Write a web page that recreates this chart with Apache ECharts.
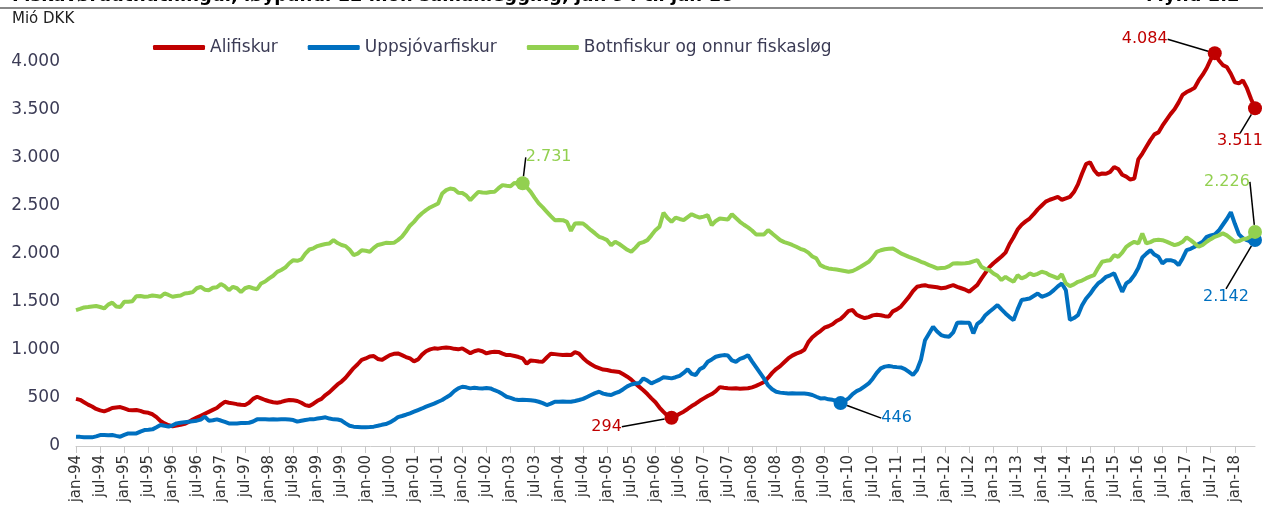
<!DOCTYPE html>
<html>
<head>
<meta charset="utf-8">
<title>Fiskavøruútflutningur</title>
<script src="https://cdn.jsdelivr.net/npm/echarts@6/dist/echarts.min.js"></script>
<style>
html, body { margin: 0; padding: 0; background: #fff; }
#chartmain { width: 1263px; height: 515px; }
</style>
</head>
<body>
<div id="chartmain"></div>
<script>
// mánaðir og ár til x-ásin
var monthNames = ['jan','feb','mar','apr','mai','jun','jul','aug','sep','okt','nov','des'];
var years = ['94','95','96','97','98','99','00','01','02','03','04','05','06','07','08','09','10','11','12','13','14','15','16','17','18'];
var lastMonth = 5; // jun-18

// Mió DKK, løypandi 12 mðr. samanlegging
var alifiskur = [
    490, 480, 455, 430, 410, 385, 370, 360, 375, 395, 400, 405,
    390, 375, 372, 374, 365, 350, 345, 330, 300, 260, 235, 215,
    205, 212, 220, 230, 250, 275, 295, 315, 335, 355, 375, 395,
    430, 460, 450, 443, 435, 428, 425, 450, 490, 512, 495, 478,
    465, 455, 450, 458, 470, 478, 475, 468, 450, 425, 416, 440,
    470, 490, 530, 560, 600, 640, 670, 710, 760, 810, 850, 895,
    910, 930, 935, 905, 895, 920, 945, 958, 962, 945, 925, 910,
    880, 900, 950, 985, 1005, 1015, 1012, 1020, 1025, 1020, 1010, 1005,
    1015, 990, 965, 985, 997, 985, 963, 975, 980, 978, 960, 945,
    945, 935, 925, 911, 855, 890, 885, 878, 877, 920, 960, 955,
    950, 945, 948, 945, 975, 960, 915, 877, 850, 825, 810, 795,
    790, 780, 775, 770, 745, 720, 690, 650, 615, 580, 540, 495,
    455, 400, 355, 315, 294, 310, 335, 357, 385, 415, 440, 470,
    495, 520, 540, 570, 612, 605, 600, 598, 600, 595, 598, 600,
    610, 625, 645, 665, 710, 760, 800, 830, 870, 910, 940, 960,
    975, 1000, 1080, 1130, 1165, 1195, 1230, 1245, 1265, 1300, 1320, 1360,
    1405, 1413, 1365, 1345, 1330, 1340, 1358, 1365, 1360, 1350, 1345, 1400,
    1420, 1450, 1500, 1550, 1610, 1655, 1665, 1672, 1660, 1655, 1650, 1640,
    1645, 1660, 1672, 1655, 1640, 1625, 1605, 1640, 1675, 1740, 1800, 1860,
    1900, 1935, 1970, 2010, 2100, 2170, 2250, 2300, 2335, 2365, 2410, 2460,
    2500, 2540, 2560, 2575, 2590, 2560, 2575, 2590, 2640, 2720, 2830, 2930,
    2950, 2870, 2820, 2833, 2830, 2850, 2900, 2880, 2820, 2800, 2770, 2780,
    2980, 3040, 3110, 3180, 3240, 3260, 3330, 3390, 3450, 3500, 3570, 3650,
    3680, 3700, 3725, 3800, 3860, 3930, 4020, 4084, 4010, 3960, 3940, 3870,
    3780, 3770, 3800, 3720, 3610, 3511
];
var uppsjovarfiskur = [
    97, 95, 90, 90, 90, 100, 114, 114, 112, 114, 105, 97,
    115, 131, 131, 131, 150, 166, 168, 173, 195, 218, 210, 201,
    215, 235, 242, 248, 253, 258, 263, 275, 305, 263, 268, 277,
    265, 250, 235, 235, 235, 238, 240, 242, 255, 277, 277, 277,
    275, 277, 275, 277, 277, 275, 270, 253, 262, 270, 277, 277,
    285, 292, 298, 285, 277, 275, 265, 235, 210, 201, 198, 194,
    196, 198, 201, 210, 220, 228, 245, 270, 300, 312, 325, 340,
    357, 374, 390, 409, 425, 440, 460, 478, 505, 530, 570, 600,
    616, 610, 599, 605, 600, 599, 602, 599, 580, 564, 540, 512,
    500, 485, 478, 480, 478, 475, 470, 460, 445, 426, 440, 460,
    460, 462, 460, 460, 468, 478, 490, 510, 530, 550, 564, 545,
    535, 530, 550, 564, 590, 620, 640, 650, 655, 703, 680, 651,
    670, 690, 714, 710, 703, 715, 730, 760, 797, 750, 738, 797,
    820, 876, 900, 928, 938, 945, 940, 890, 876, 905, 920, 945,
    880, 820, 760, 700, 630, 590, 564, 555, 550, 547, 548, 547,
    547, 545, 540, 530, 512, 495, 497, 485, 480, 470, 446, 470,
    495, 540, 570, 590, 620, 650, 700, 760, 807, 825, 831, 825,
    820, 817, 800, 770, 738, 790, 900, 1100, 1170, 1240, 1190, 1153,
    1140, 1136, 1180, 1281, 1285, 1282, 1281, 1171, 1270, 1300, 1360, 1396,
    1430, 1465, 1420, 1378, 1340, 1309, 1420, 1517, 1525, 1534, 1560, 1586,
    1551, 1565, 1586, 1620, 1660, 1690, 1620, 1309, 1330, 1360, 1460, 1530,
    1580, 1640, 1690, 1720, 1759, 1775, 1794, 1700, 1603, 1690, 1720, 1776,
    1850, 1960, 2000, 2036, 1990, 1967, 1898, 1932, 1932, 1920, 1880, 1950,
    2036, 2050, 2071, 2100, 2123, 2175, 2190, 2200, 2240, 2300, 2360, 2430,
    2310, 2200, 2160, 2140, 2125, 2142
];
var botnfiskur = [
    1413, 1425, 1440, 1444, 1450, 1455, 1445, 1430, 1470, 1490, 1450, 1444,
    1500, 1500, 1505, 1558, 1560, 1552, 1555, 1565, 1560, 1552, 1586, 1570,
    1552, 1560, 1565, 1586, 1590, 1600, 1640, 1655, 1625, 1620, 1645, 1650,
    1683, 1660, 1620, 1655, 1640, 1600, 1640, 1655, 1640, 1630, 1690, 1710,
    1742, 1770, 1810, 1830, 1855, 1900, 1932, 1925, 1940, 2000, 2043, 2055,
    2078, 2090, 2100, 2106, 2140, 2110, 2090, 2078, 2040, 1985, 2000, 2036,
    2030, 2020, 2060, 2090, 2100, 2112, 2110, 2112, 2140, 2175, 2230, 2290,
    2330, 2380, 2420, 2452, 2480, 2500, 2522, 2625, 2660, 2677, 2670, 2632,
    2630, 2605, 2556, 2600, 2642, 2635, 2632, 2640, 2642, 2680, 2712, 2705,
    2700, 2736, 2720, 2731, 2690, 2642, 2580, 2522, 2480, 2435, 2390, 2348,
    2350, 2348, 2330, 2237, 2313, 2315, 2313, 2280, 2244, 2210, 2175, 2160,
    2140, 2088, 2123, 2100, 2071, 2040, 2019, 2060, 2106, 2120, 2140, 2190,
    2244, 2280, 2424, 2370, 2331, 2375, 2360, 2348, 2380, 2410, 2390, 2375,
    2385, 2400, 2296, 2340, 2365, 2360, 2355, 2410, 2370, 2331, 2300, 2272,
    2240, 2200, 2200, 2200, 2244, 2210, 2175, 2140, 2120, 2106, 2090, 2071,
    2050, 2036, 2010, 1970, 1950, 1880, 1860, 1846, 1840, 1835, 1828, 1820,
    1812, 1820, 1840, 1863, 1890, 1915, 1960, 2019, 2035, 2045, 2050, 2054,
    2030, 2002, 1985, 1967, 1950, 1935, 1915, 1900, 1880, 1865, 1846, 1850,
    1853, 1870, 1898, 1900, 1898, 1900, 1905, 1920, 1932, 1863, 1840, 1828,
    1794, 1770, 1725, 1759, 1730, 1707, 1776, 1742, 1760, 1794, 1776, 1790,
    1811, 1800, 1776, 1760, 1742, 1786, 1690, 1662, 1680, 1707, 1720, 1742,
    1760, 1776, 1850, 1915, 1925, 1932, 1984, 1967, 2010, 2071, 2100, 2123,
    2106, 2210, 2106, 2120, 2140, 2145, 2140, 2125, 2106, 2088, 2100, 2123,
    2168, 2140, 2106, 2071, 2090, 2123, 2150, 2175, 2190, 2210, 2190, 2157,
    2123, 2130, 2150, 2157, 2180, 2226
];

var seriesNames = ['Alifiskur', 'Uppsjóvarfiskur', 'Botnfiskur og onnur fiskasløg'];
var seriesColors = ['#c00000', '#0070c0', '#92d050'];

// merktir punktar: rað, mánaður (index), flyting av tekstinum
var callouts = [
    {s: 0, i: 283, dx: -70, dy: -14},
    {s: 0, i: 293, dx: -15, dy: 33},
    {s: 0, i: 148, dx: -65, dy: 9},
    {s: 1, i: 190, dx: 56, dy: 15},
    {s: 1, i: 293, dx: -29, dy: 57},
    {s: 2, i: 111, dx: 26, dy: -26},
    {s: 2, i: 293, dx: -28, dy: -50}
];

var categories = [];
for (var y = 0; y < years.length; y++) {
    for (var m = 0; m < 12; m++) {
        if (y == years.length - 1 && m > lastMonth) break;
        categories.push(monthNames[m] + '-' + years[y]);
    }
}

function fmt(v) {
    return String(v).replace(/\B(?=(\d{3})+(?!\d))/g, '.');
}

function findCallout(s, i) {
    for (var k = 0; k < callouts.length; k++) {
        if (callouts[k].s == s && callouts[k].i == i) return callouts[k];
    }
    return null;
}

function buildData(values, s) {
    return values.map(function (v, i) {
        if (!findCallout(s, i)) return v;
        return {
            value: v,
            symbol: 'circle',
            symbolSize: 14,
            label: {
                show: true,
                position: 'inside',
                formatter: function (p) { return fmt(p.value); },
                color: seriesColors[s],
                fontSize: 16,
                fontFamily: 'DejaVu Sans'
            },
            labelLine: {show: true, lineStyle: {color: '#000', width: 1.5}}
        };
    });
}

var allValues = [alifiskur, uppsjovarfiskur, botnfiskur];
var series = allValues.map(function (vals, s) {
    return {
        name: seriesNames[s],
        type: 'line',
        data: buildData(vals, s),
        symbol: 'none',
        showSymbol: true,
        showAllSymbol: true,
        z: s == 2 ? 3 : 2,
        lineStyle: {width: 4, color: seriesColors[s]},
        itemStyle: {color: seriesColors[s]},
        labelLine: {show: true, lineStyle: {color: '#000', width: 1.5}},
        labelLayout: function (p) {
            var c = findCallout(p.seriesIndex, p.dataIndex);
            if (!c) return {};
            return {dx: c.dx, dy: c.dy};
        },
        emphasis: {disabled: true},
        animation: false
    };
});

var myChart = echarts.init(document.getElementById('chartmain'));
var option = {
    animation: false,
    textStyle: {fontFamily: 'DejaVu Sans'},
    graphic: [
        {type: 'text', left: 12, top: -13, style: {
            text: 'Fiskavøruútflutningur, løypandi 12 mðr. samanlegging, jan 94 til jan 18',
            font: 'bold 18px "DejaVu Sans"', fill: '#000'}},
        {type: 'text', left: 1146, top: -13, style: {
            text: 'Mynd 1.2', font: 'bold 18px "DejaVu Sans"', fill: '#000'}},
        {type: 'line', shape: {x1: 0, y1: 8, x2: 1263, y2: 8},
            style: {stroke: '#888', lineWidth: 2}},
        {type: 'text', left: 12, top: 12, style: {
            text: 'Mió DKK', font: '15px "DejaVu Sans"', fill: '#222'}}
    ],
    legend: {
        data: seriesNames,
        left: 148,
        top: 34,
        icon: 'roundRect',
        itemWidth: 52,
        itemHeight: 5,
        itemGap: 30,
        textStyle: {fontSize: 17, color: '#3b3b55', fontFamily: 'DejaVu Sans'}
    },
    grid: {left: 76, right: 8, top: 42, bottom: 69, containLabel: false},
    xAxis: {
        type: 'category',
        data: categories,
        boundaryGap: false,
        axisLine: {lineStyle: {color: '#ccc', width: 1}},
        axisTick: {show: true, interval: 5, length: 7, lineStyle: {color: '#c8c8c8'}},
        axisLabel: {
            interval: 5,
            rotate: 90,
            fontSize: 15,
            color: '#333',
            margin: 9,
            fontFamily: 'DejaVu Sans'
        },
        splitLine: {show: false}
    },
    yAxis: {
        type: 'value',
        min: 0,
        max: 4200,
        interval: 500,
        axisLine: {show: false},
        axisTick: {show: false},
        splitLine: {show: false},
        axisLabel: {
            showMaxLabel: false,
            fontSize: 17,
            color: '#3b3b55',
            margin: 16,
            fontFamily: 'DejaVu Sans',
            formatter: function (v) { return v > 4000 ? '' : fmt(v); }
        }
    },
    series: series
};
myChart.setOption(option);
</script>
</body>
</html>
